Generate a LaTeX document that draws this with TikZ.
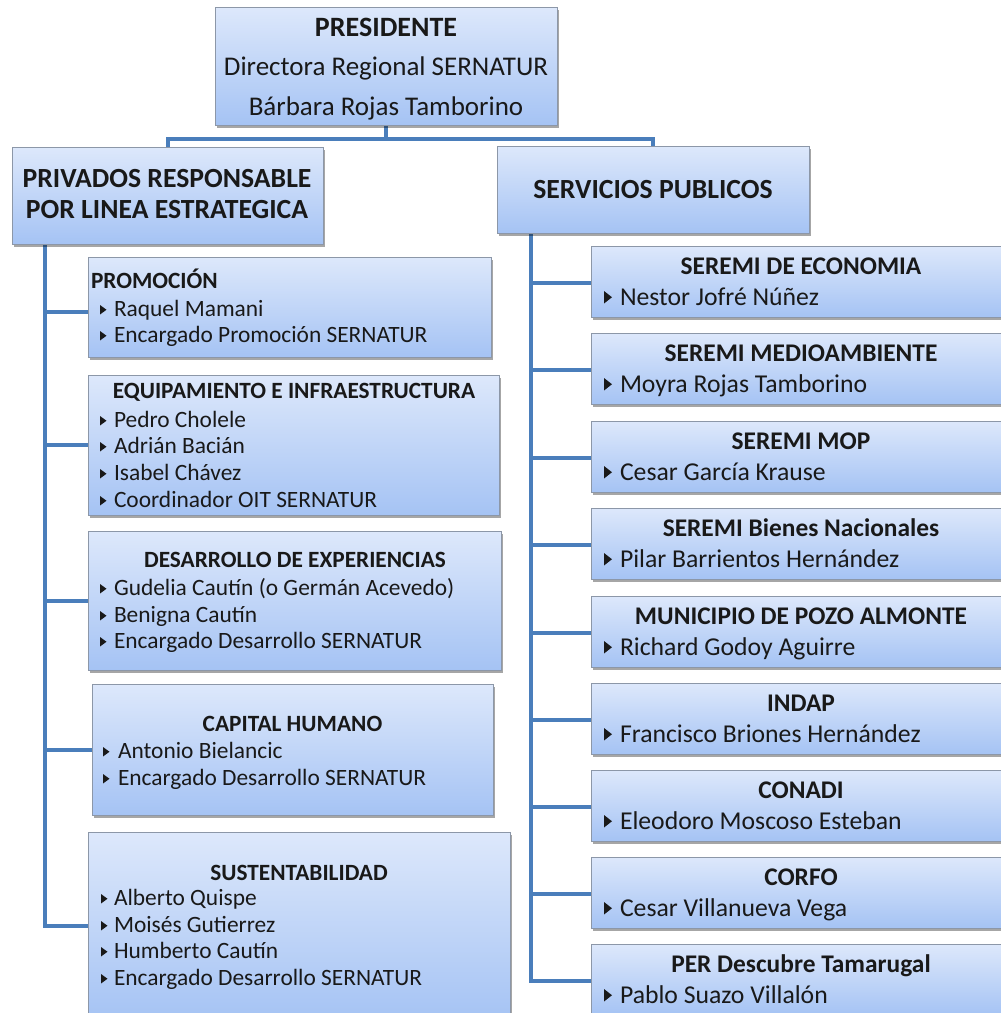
\documentclass[tikz,border=0pt]{standalone}
\usepackage{fontspec}
\setmainfont{Carlito}
\usetikzlibrary{shadows}
\definecolor{boxtop}{HTML}{DDE8FB}
\definecolor{boxbot}{HTML}{A5C3F4}
\definecolor{edgegray}{HTML}{8C97A8}
\definecolor{link}{HTML}{4A7EBB}
\pgfdeclarelayer{bg}\pgfsetlayers{bg,main}
\newcount\tn
\tikzset{
  box/.style={draw=edgegray, line width=0.9pt, top color=boxtop, bottom color=boxbot,
    anchor=north west, inner sep=0pt, outer sep=0pt,
    drop shadow={shadow xshift=2pt, shadow yshift=-2.5pt, fill=black, opacity=0.35}},
  conn/.style={draw=link, line width=4pt},
  tx/.style={inner sep=0pt, outer sep=0pt, text=black!90},
  presttl/.style={tx, anchor=base, font=\fontsize{28}{32}\selectfont\bfseries},
  prestx/.style={tx, anchor=base, font=\fontsize{27}{31}\selectfont},
  bigttl/.style={tx, anchor=base, font=\fontsize{27.7}{31}\selectfont\bfseries},
  lttl/.style={tx, anchor=base, font=\fontsize{23.3}{27}\selectfont\bfseries},
  lttlw/.style={tx, anchor=base west, font=\fontsize{23.3}{27}\selectfont\bfseries},
  ltx/.style={tx, anchor=base west, font=\fontsize{23.4}{27}\selectfont},
  rttl/.style={tx, anchor=base, font=\fontsize{25.4}{29}\selectfont\bfseries},
  rtx/.style={tx, anchor=base west, font=\fontsize{25.7}{29}\selectfont},
}
\newcommand\txt[4]{\global\advance\tn by 1 \node[#1] (t\the\tn) at (#2,#3) {#4};}
\newcommand\litem[4]{\global\advance\tn by 1
  \fill[black!90] (#1,#3-1.5) -- (#1,#3-11) -- (#1+6.5,#3-6.25) -- cycle;
  \node[ltx] (t\the\tn) at (#2,#3) {#4};}
\newcommand\ritem[4]{\global\advance\tn by 1
  \fill[black!90] (#1,#3-1.5) -- (#1,#3-14) -- (#1+8,#3-7.75) -- cycle;
  \node[rtx] (t\the\tn) at (#2,#3) {#4};}
\newcommand\rbox[4]{% name, top, title, person
  \node[box, minimum width=440pt, minimum height=71pt] (#1) at (591,#2) {};
  \txt{rttl}{801}{#2+28}{#3}
  \ritem{604}{620}{#2+59}{#4}}
\begin{document}
\begin{tikzpicture}[x=1pt, y=-1pt]
\useasboundingbox (0,0) rectangle (1001,1013);
\clip (0,0) rectangle (1001,1013);
% boxes
\node[box, minimum width=342pt, minimum height=118pt] (pres) at (215,7) {};
\node[box, minimum width=311pt, minimum height=97pt] (priv) at (12,147) {};
\node[box, minimum width=312pt, minimum height=87pt] (serv) at (497,146) {};
\node[box, minimum width=403pt, minimum height=100pt] (prom) at (88,257) {};
\node[box, minimum width=411pt, minimum height=140pt] (equip) at (88,375) {};
\node[box, minimum width=413pt, minimum height=139pt] (desa) at (88,531) {};
\node[box, minimum width=401pt, minimum height=131pt] (capi) at (92,684) {};
\node[box, minimum width=422pt, minimum height=188pt] (sust) at (88,832) {};
% top texts
\txt{presttl}{386}{36}{PRESIDENTE}
\txt{prestx}{386}{75}{Directora Regional SERNATUR}
\txt{prestx}{386}{115}{Bárbara Rojas Tamborino}
\txt{bigttl}{167}{187}{PRIVADOS RESPONSABLE}
\txt{bigttl}{167}{218}{POR LINEA ESTRATEGICA}
\txt{bigttl}{653}{198}{SERVICIOS PUBLICOS}
% left boxes
\txt{lttlw}{91}{288}{PROMOCIÓN}
\litem{100}{114}{316}{Raquel Mamani}
\litem{100}{114}{342}{Encargado Promoción SERNATUR}
\txt{lttl}{294}{398}{EQUIPAMIENTO E INFRAESTRUCTURA}
\litem{100}{114}{427}{Pedro Cholele}
\litem{100}{114}{453}{Adrián Bacián}
\litem{100}{114}{480}{Isabel Chávez}
\litem{100}{114}{507}{Coordinador OIT SERNATUR}
\txt{lttl}{295}{567}{DESARROLLO DE EXPERIENCIAS}
\litem{100}{114}{595}{Gudelia Cautín (o Germán Acevedo)}
\litem{100}{114}{622}{Benigna Cautín}
\litem{100}{114}{648}{Encargado Desarrollo SERNATUR}
\txt{lttl}{292.5}{731}{CAPITAL HUMANO}
\litem{103}{118}{758}{Antonio Bielancic}
\litem{103}{118}{785}{Encargado Desarrollo SERNATUR}
\txt{lttl}{299}{880}{SUSTENTABILIDAD}
\litem{101}{114}{905}{Alberto Quispe}
\litem{101}{114}{932}{Moisés Gutierrez}
\litem{101}{114}{958}{Humberto Cautín}
\litem{101}{114}{985}{Encargado Desarrollo SERNATUR}
% right boxes
\rbox{r1}{246}{SEREMI DE ECONOMIA}{Nestor Jofré Núñez}
\rbox{r2}{333}{SEREMI MEDIOAMBIENTE}{Moyra Rojas Tamborino}
\rbox{r3}{421}{SEREMI MOP}{Cesar García Krause}
\rbox{r4}{508}{SEREMI Bienes Nacionales}{Pilar Barrientos Hernández}
\rbox{r5}{596}{MUNICIPIO DE POZO ALMONTE}{Richard Godoy Aguirre}
\rbox{r6}{683}{INDAP}{Francisco Briones Hernández}
\rbox{r7}{770}{CONADI}{Eleodoro Moscoso Esteban}
\rbox{r8}{857}{CORFO}{Cesar Villanueva Vega}
\rbox{r9}{944}{PER Descubre Tamarugal}{Pablo Suazo Villalón}
% connectors
\begin{pgfonlayer}{bg}
\draw[conn] (pres.south) -- ++(0,14) coordinate (j);
\draw[conn] (priv.north) -- (priv.north |- j) -- (serv.north |- j) -- (serv.north);
\coordinate (lt) at ([xshift=33pt]priv.south west);
\draw[conn] (lt) |- ([yshift=-5pt]prom.west);
\foreach \n in {equip,desa,capi,sust} \draw[conn] (lt) |- (\n.west);
\coordinate (rt) at ([xshift=34pt]serv.south west);
\foreach \n in {r1,r2,r3,r4,r5,r6,r7,r8,r9} \draw[conn] (rt) |- ([yshift=-1.5pt]\n.west);
\end{pgfonlayer}
\end{tikzpicture}
\end{document}
